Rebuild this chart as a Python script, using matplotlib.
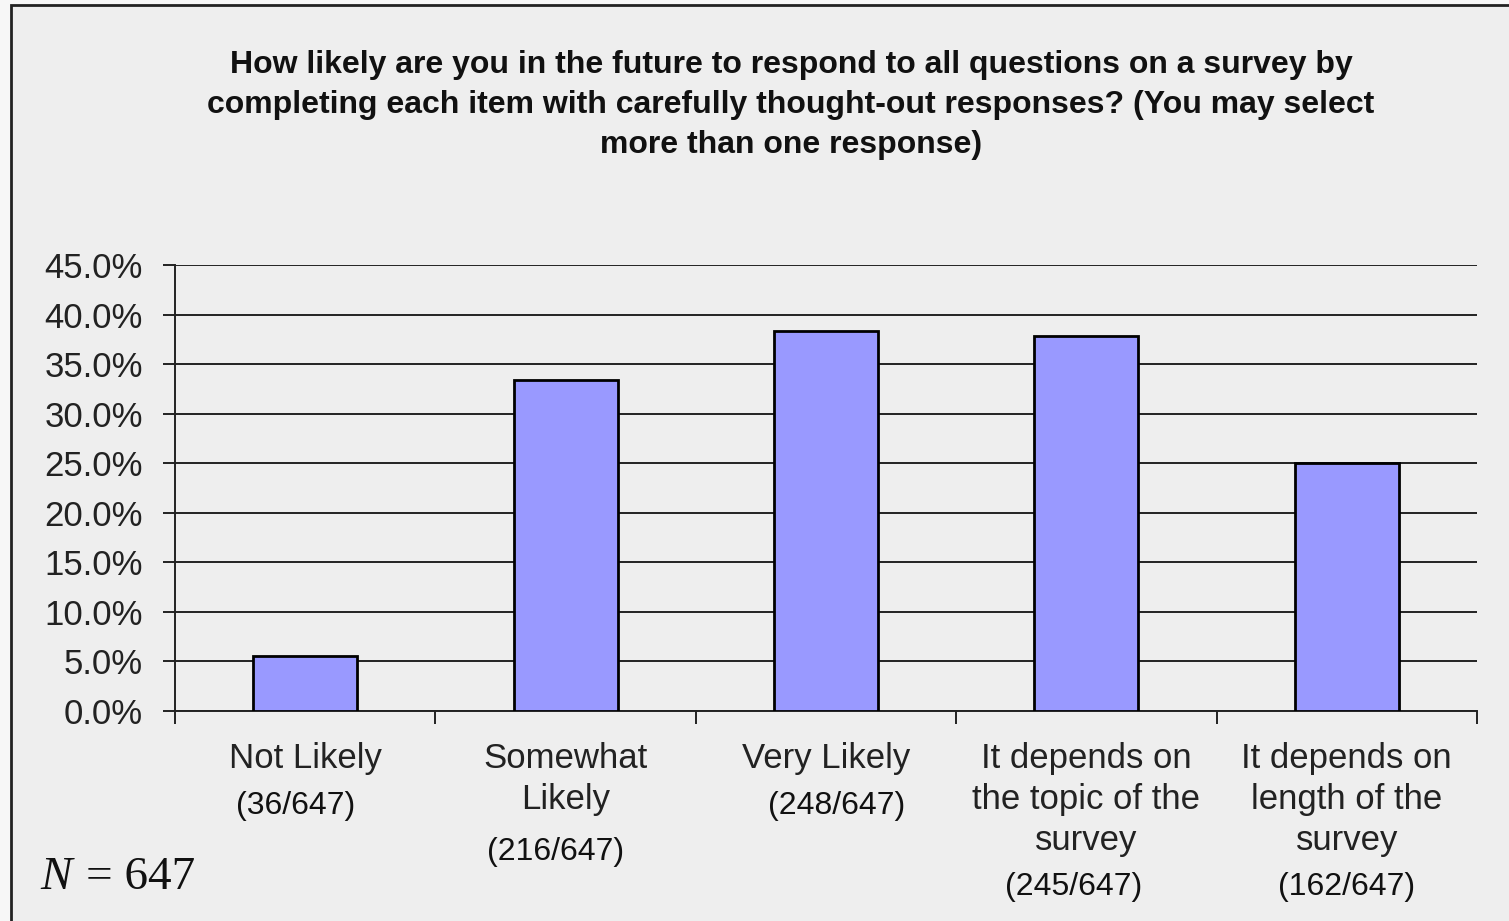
import numpy as np
import matplotlib.pyplot as plt
from matplotlib.patches import Rectangle
from matplotlib.ticker import FixedLocator, PercentFormatter
import matplotlib.transforms as mtransforms

categories = ["Not Likely", "Somewhat\nLikely", "Very Likely",
              "It depends on\nthe topic of the\nsurvey",
              "It depends on\nlength of the\nsurvey"]
counts = [36, 216, 248, 245, 162]
total = 647
count_labels = [f"({c}/{total})" for c in counts]
shares = [c / total * 100 for c in counts]

title = ("How likely are you in the future to respond to all questions on a survey by\n"
         "completing each item with carefully thought-out responses? (You may select\n"
         "more than one response)")

plt.rcParams["font.family"] = ["Liberation Sans", "DejaVu Sans"]

fig = plt.figure(figsize=(15.09, 9.21), dpi=100, facecolor="#f7f7f7")
fig.patches.append(Rectangle((11 / 1509, -0.05), 1.1, 1.05 - 5 / 921,
                             transform=fig.transFigure, facecolor="#eeeeee",
                             edgecolor="#222222", linewidth=2, zorder=-5))

ax = fig.add_axes([175 / 1509, 1 - 711 / 921, 1302 / 1509, 446 / 921])
ax.set_facecolor("none")
ax.set_zorder(2)

x = np.arange(len(categories))
ax.bar(x, shares, width=0.4, color="#9999ff", edgecolor="black",
       linewidth=2, zorder=3)

ax.set_xlim(-0.5, len(categories) - 0.5)
ax.set_ylim(0, 45)
ax.yaxis.set_major_locator(FixedLocator(np.arange(0, 45.1, 5)))
ax.yaxis.set_major_formatter(PercentFormatter(decimals=1))
ax.grid(axis="y", color="#222222", linewidth=1.4, zorder=1)
ax.set_axisbelow(True)

ax.set_xticks(x)
ax.set_xticklabels(categories, fontsize=25, color="#222222", linespacing=1.31)
ax.xaxis.set_minor_locator(FixedLocator(np.arange(-0.5, len(categories), 1)))
ax.tick_params(axis="x", which="major", length=0, pad=22)
ax.tick_params(axis="x", which="minor", length=9, width=1.4, color="#222222")
ax.tick_params(axis="y", labelsize=25, length=9, width=1.4,
               color="#222222", labelcolor="#222222", pad=14)

for s in ["top", "right"]:
    ax.spines[s].set_visible(False)
for s in ["left", "bottom"]:
    ax.spines[s].set_color("#222222")
    ax.spines[s].set_linewidth(1.4)

# count labels below each category
trans = mtransforms.blended_transform_factory(ax.transData, fig.transFigure)
count_y = [806, 852, 806, 887, 887]
count_dx = [-0.035, -0.04, 0.04, -0.05, 0.0]
for i, lab in enumerate(count_labels):
    ax.text(x[i] + count_dx[i], 1 - count_y[i] / 921, lab, transform=trans,
            ha="center", va="center", fontsize=23, color="#111111")

fig.text(791 / 1509, 1 - 105 / 921, title, ha="center", va="center",
         fontsize=23, fontweight="bold", color="#111111", linespacing=1.44)

serif = ["Liberation Serif", "DejaVu Serif"]
fig.text(40 / 1509, 1 - 878 / 921, "N", ha="left", va="center",
         fontsize=34, family=serif, style="italic", color="#111111")
fig.text(86 / 1509, 1 - 878 / 921, "= 647", ha="left", va="center",
         fontsize=34, family=serif, color="#111111")

fig.savefig("out.png", dpi=100, facecolor=fig.get_facecolor())
